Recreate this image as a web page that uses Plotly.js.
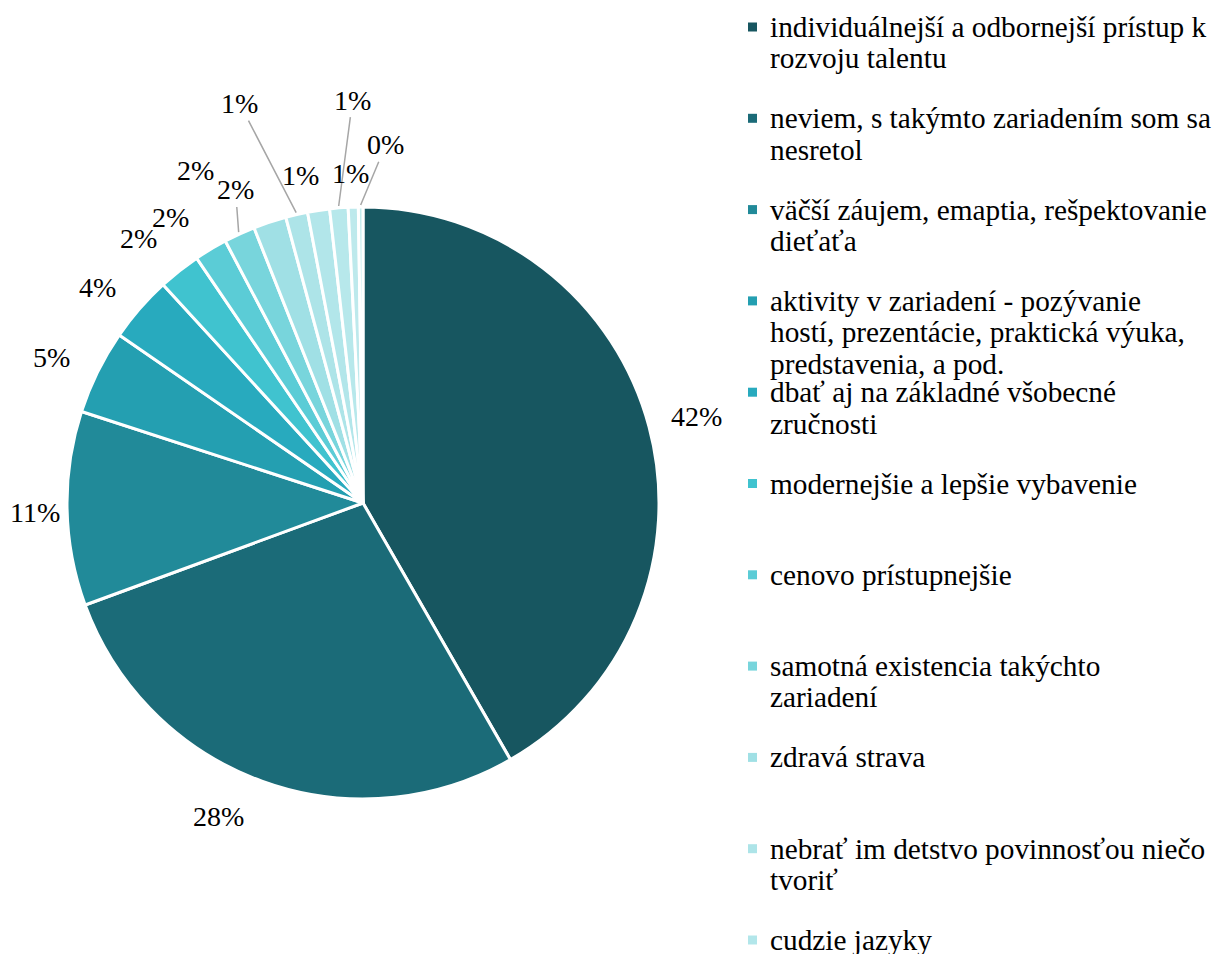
<!DOCTYPE html>
<html>
<head>
<meta charset="utf-8">
<script src="https://cdn.plot.ly/plotly-3.0.1.min.js"></script>
<style>html,body{margin:0;padding:0;background:#fff}#chart{width:1212px;height:954px}</style>
</head>
<body>
<div id="chart"></div>
<script>
// ---- data ----
const categories = [
  "individuálnejší a odbornejší prístup k\nrozvoju talentu",
  "neviem, s takýmto zariadením som sa\nnesretol",
  "väčší záujem, emaptia, rešpektovanie\ndieťaťa",
  "aktivity v zariadení - pozývanie\nhostí, prezentácie, praktická výuka,\npredstavenia, a pod.",
  "dbať aj na základné všobecné\nzručnosti",
  "modernejšie a lepšie vybavenie",
  "cenovo prístupnejšie",
  "samotná existencia takýchto\nzariadení",
  "zdravá strava",
  "nebrať im detstvo povinnosťou niečo\ntvoriť",
  "cudzie jazyky",
  "12", "13", "14"
];
const shares = [41.7, 27.7, 10.6, 4.6, 3.6, 2.3, 1.8, 1.7, 1.8, 1.2, 1.2, 1.0, 0.55, 0.25];
const colors = ["#175660","#1b6b78","#218a99","#249fb1","#28aabe","#40c3cf","#5bccd6",
                "#78d5dc","#a0e0e5","#ade4e8","#b2e6ea","#b7e8eb","#bde9ec","#c4ecee"];
const visibleLegendCount = 11;

// ---- layout constants ----
const W = 1212, H = 954;
const FONT = 'Liberation Serif, Times New Roman, serif';
const legendFont = 29.3, labelFont = 28;
const cx = 363, cy = 503, R = 296;
// label placement per slice: [angle shift from slice middle (deg), distance from centre (px), leader line]
const labelPlace = [
  [0.4, 345, false], [4.8, 345, false], [-0.5, 328, false], [-1.2, 344, false], [-1.9, 342, false],
  [-2, 347, false], [-3, 344, false], [2.5, 338, true], [-8.4, 372, false], [-4.2, 418, true],
  [-2.2, 333, false], [3.2, 403, true], [-0.3, 330, false], [4.1, 359, true]
];

const annotations = [], shapes = [];
const px = x => x / W, py = y => 1 - y / H;

// legend
const step = 91.3, firstY = 27, lineH = 31.3, markX = 748, textX = 768;
for (let i = 0; i < visibleLegendCount; i++) {
  const yTop = firstY + i * step;
  shapes.push({type:'rect', xref:'paper', yref:'paper',
    x0: px(markX), x1: px(markX + 9), y0: py(yTop + 4.5), y1: py(yTop - 4.5),
    fillcolor: colors[i], line: {width: 0}});
  categories[i].split('\n').forEach((ln, j) => {
    annotations.push({xref:'paper', yref:'paper', x: px(textX), y: py(yTop + j * lineH),
      xanchor:'left', yanchor:'middle', showarrow:false, text: ln,
      font:{family: FONT, size: legendFont, color:'#000'}});
  });
}

// data labels, positioned from the cumulative shares
const total = shares.reduce((a, b) => a + b, 0);
let cum = 0;
shares.forEach((v, i) => {
  const mid = (cum + v / 2) / total * 360;
  cum += v;
  const pct = Math.round(v / total * 100) + '%';
  const [dA, dist, leader] = labelPlace[i];
  const a = (mid + dA) * Math.PI / 180;
  const lx = cx + dist * Math.sin(a), ly = cy - dist * Math.cos(a);
  const font = {family: FONT, size: labelFont, color: '#000'};
  if (leader) {
    const m = mid * Math.PI / 180;
    const ex = cx + (R + 2) * Math.sin(m), ey = cy - (R + 2) * Math.cos(m);
    annotations.push({xref:'paper', yref:'paper', x: px(ex), y: py(ey),
      ax: lx - ex, ay: ly - ey, showarrow: true, arrowhead: 0, arrowwidth: 1.5,
      arrowcolor: '#a6a6a6', standoff: 0, text: pct, font: font,
      xanchor: 'center', yanchor: 'middle'});
  } else {
    annotations.push({xref:'paper', yref:'paper', x: px(lx), y: py(ly), showarrow: false,
      text: pct, font: font, xanchor: 'center', yanchor: 'middle'});
  }
});

const trace = {
  type: 'pie',
  labels: categories.map(c => c.replace(/\n/g, ' ')),
  values: shares,
  sort: false,
  direction: 'clockwise',
  rotation: 0,
  marker: {colors: colors, line: {color: '#ffffff', width: 3}},
  textinfo: 'none',
  showlegend: false,
  hoverinfo: 'label+percent',
  domain: {x: [(cx - R) / W, (cx + R) / W], y: [1 - (cy + R) / H, 1 - (cy - R) / H]}
};

const layout = {
  width: W, height: H,
  margin: {l: 0, r: 0, t: 0, b: 0},
  paper_bgcolor: '#fff',
  showlegend: false,
  annotations: annotations,
  shapes: shapes,
  font: {family: FONT}
};

Plotly.newPlot('chart', [trace], layout, {displayModeBar: false, staticPlot: true});
</script>
</body>
</html>
